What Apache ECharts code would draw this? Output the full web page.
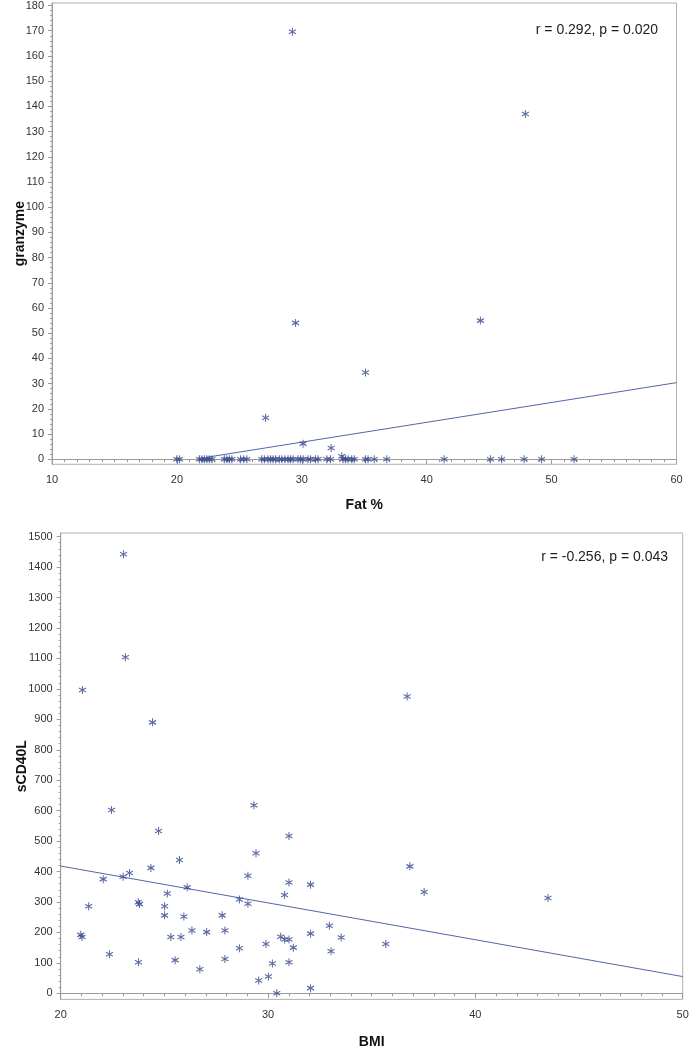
<!DOCTYPE html>
<html>
<head>
<meta charset="utf-8">
<script src="https://cdn.jsdelivr.net/npm/echarts@6/dist/echarts.min.js"></script>
<style>html,body{margin:0;padding:0;background:#fff}#c{width:689px;height:1050px}</style>
</head>
<body>
<div id="c"></div>
<script>
// ---------- Top panel: Fat % vs granzyme ----------
const fatX = [20.0, 20.2, 21.8, 22.0, 22.2, 22.4, 22.6, 22.8, 23.8, 24.0, 24.2, 24.4, 25.1, 25.35, 25.6,
  26.8, 27.0, 27.3, 27.5, 27.7, 27.9, 28.2, 28.4, 28.65, 28.9, 29.1, 29.3, 29.7, 29.9, 30.1, 30.5, 30.7,
  31.1, 31.3, 32.0, 32.3, 33.3, 33.5, 33.7, 34.0, 34.2, 35.1, 35.3, 35.8, 36.8, 41.4, 45.1, 46.0, 47.8,
  49.2, 51.8,
  29.25, 47.9, 29.5, 44.3, 35.1, 27.1, 30.1, 32.35, 33.2];
const granzymeY = [0, 0, 0, 0, 0, 0, 0, 0, 0, 0, 0, 0, 0, 0, 0,
  0, 0, 0, 0, 0, 0, 0, 0, 0, 0, 0, 0, 0, 0, 0, 0, 0,
  0, 0, 0, 0, 0, 0, 0, 0, 0, 0, 0, 0, 0, 0, 0, 0, 0,
  0, 0,
  169.6, 137, 54.1, 55, 34.4, 16.5, 6.2, 4.5, 1.2];
const fatTicks = [10, 20, 30, 40, 50, 60];
const granzymeTicks = [0, 10, 20, 30, 40, 50, 60, 70, 80, 90, 100, 110, 120, 130, 140, 150, 160, 170, 180];
const fatFitX = [22.4, 60];
const fatFitY = [0.8, 30.4];
const fatStats = 'r = 0.292, p = 0.020';

// ---------- Bottom panel: BMI vs sCD40L ----------
const bmiX = [22.45, 24.72, 29.32, 31.01, 25.73, 29.42, 24.35, 22.05, 23.01, 23.32, 26.10, 25.14, 29.03,
  31.01, 32.05, 30.80, 28.62, 29.03, 21.35, 23.74, 23.80, 25.01, 25.01, 25.94, 27.79, 26.33, 27.04, 27.92,
  20.97, 21.03, 25.31, 25.80, 32.05, 30.61, 30.80, 31.01, 29.90, 31.22, 28.62, 22.35, 23.75, 25.52, 27.92,
  30.21, 31.01, 26.71, 30.02, 29.55, 30.42, 32.05, 32.96, 33.04, 33.53, 35.68, 36.84, 37.53, 43.50,
  23.03, 23.12, 21.05, 24.43, 36.71];
const scd40lY = [602, 533, 618, 517, 438, 460, 412, 375, 383, 395, 348, 328, 386,
  364, 357, 323, 308, 294, 286, 299, 293, 286, 256, 252, 256, 206, 201, 206,
  192, 185, 185, 185, 196, 186, 177, 177, 162, 150, 148, 128, 102, 109, 113,
  98, 102, 79, 55, 42, 0, 17, 222, 138, 183, 162, 417, 333, 313,
  1442, 1104, 996, 890, 975];
const bmiTicks = [20, 30, 40, 50];
const scd40lTicks = [0, 100, 200, 300, 400, 500, 600, 700, 800, 900, 1000, 1100, 1200, 1300, 1400, 1500];
const bmiFitX = [20, 50];
const bmiFitY = [418, 55];
const bmiStats = 'r = -0.256, p = 0.043';

// ---------- helpers ----------
function minors(lo, hi, step, majors) {
  const out = [];
  for (let v = lo; v <= hi + 1e-9; v += step) {
    const r = Math.round(v * 1000) / 1000;
    if (majors.indexOf(r) < 0) out.push(r);
  }
  return out;
}
const FONT = 'Liberation Sans, Arial, sans-serif';
const AXC = '#9a9a9a';
const MARK = '#34468f';
const LINEC = '#5365a8';
const STAR = 'path://M5,0L5,10M0.67,2.5L9.33,7.5M0.67,7.5L9.33,2.5';
const plain = v => String(v);

function xAxes(grid, min, max, majors, minorStep, name, gap) {
  return [
    { gridIndex: grid, type: 'value', position: 'bottom', min: min, max: max,
      axisLine: { show: true, lineStyle: { color: AXC } },
      axisTick: { show: true, customValues: majors, length: 5, lineStyle: { color: AXC } },
      axisLabel: { customValues: majors, formatter: plain, color: '#333', fontSize: 11, fontFamily: FONT, margin: 10 },
      splitLine: { show: false },
      name: name, nameLocation: 'middle', nameGap: gap, nameMoveOverlap: false,
      nameTextStyle: { fontWeight: 'bold', fontSize: 14, color: '#111', fontFamily: FONT } },
    { gridIndex: grid, type: 'value', position: 'bottom', min: min, max: max,
      axisLine: { show: false },
      axisTick: { show: true, customValues: minors(majors[0], majors[majors.length - 1], minorStep, majors), length: 3, lineStyle: { color: AXC } },
      axisLabel: { show: false }, splitLine: { show: false } }
  ];
}
function yAxes(grid, min, max, majors, minorStep, name, gap) {
  return [
    { gridIndex: grid, type: 'value', position: 'left', min: min, max: max,
      axisLine: { show: true, lineStyle: { color: AXC } },
      axisTick: { show: true, customValues: majors, length: 4, lineStyle: { color: AXC } },
      axisLabel: { customValues: majors, formatter: plain, color: '#333', fontSize: 11, fontFamily: FONT, margin: 8 },
      splitLine: { show: false },
      name: name, nameLocation: 'middle', nameGap: gap, nameMoveOverlap: false,
      nameTextStyle: { fontWeight: 'bold', fontSize: 14, color: '#111', fontFamily: FONT } },
    { gridIndex: grid, type: 'value', position: 'left', min: min, max: max,
      axisLine: { show: false },
      axisTick: { show: true, customValues: minors(majors[0], majors[majors.length - 1], minorStep, majors), length: 2, lineStyle: { color: AXC } },
      axisLabel: { show: false }, splitLine: { show: false } }
  ];
}

const chart = echarts.init(document.getElementById('c'), null, { renderer: 'canvas' });
chart.setOption({
  animation: false,
  backgroundColor: '#fff',
  grid: [
    { left: 52, top: 3, width: 624.5, height: 461.3, show: true, borderColor: '#b0b0b0', borderWidth: 1,
      containLabel: false, outerBoundsMode: 'none' },
    { left: 60.7, top: 533, width: 622, height: 466.4, show: true, borderColor: '#b0b0b0', borderWidth: 1,
      containLabel: false, outerBoundsMode: 'none' }
  ],
  xAxis: [].concat(
    xAxes(0, 10, 60, fatTicks, 1, 'Fat %', 34),
    xAxes(1, 20, 50, bmiTicks, 1, 'BMI', 36)
  ),
  yAxis: [].concat(
    yAxes(0, -2, 181, granzymeTicks, 2, 'granzyme', 25),
    yAxes(1, -20, 1512, scd40lTicks, 20, 'sCD40L', 32)
  ),
  graphic: [
    { type: 'text', right: 31, top: 23, style: { text: fatStats, font: '14px ' + FONT, fill: '#222' } },
    { type: 'text', right: 21, top: 550, style: { text: bmiStats, font: '14px ' + FONT, fill: '#222' } }
  ],
  series: [
    { type: 'line', xAxisIndex: 0, yAxisIndex: 0, data: fatFitX.map((x, i) => [x, fatFitY[i]]),
      showSymbol: false, symbol: 'none', lineStyle: { color: LINEC, width: 1 }, z: 1 },
    { type: 'scatter', xAxisIndex: 0, yAxisIndex: 0, data: fatX.map((x, i) => [x, granzymeY[i]]),
      symbol: STAR, symbolSize: [7, 8],
      itemStyle: { color: MARK, borderColor: MARK, borderWidth: 1.1 }, z: 2 },
    { type: 'line', xAxisIndex: 2, yAxisIndex: 2, data: bmiFitX.map((x, i) => [x, bmiFitY[i]]),
      showSymbol: false, symbol: 'none', lineStyle: { color: LINEC, width: 1 }, z: 1 },
    { type: 'scatter', xAxisIndex: 2, yAxisIndex: 2, data: bmiX.map((x, i) => [x, scd40lY[i]]),
      symbol: STAR, symbolSize: [7, 8],
      itemStyle: { color: MARK, borderColor: MARK, borderWidth: 1.1 }, z: 2 }
  ]
});
</script>
</body>
</html>
